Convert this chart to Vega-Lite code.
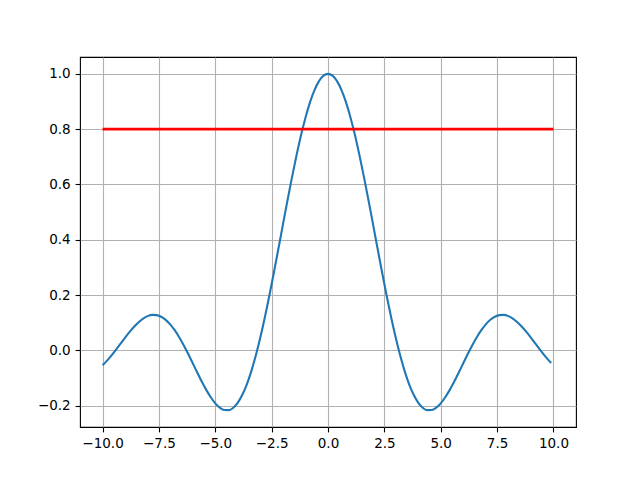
{
  "$schema": "https://vega.github.io/schema/vega-lite/v6.json",
  "width": 496,
  "height": 370,
  "padding": {"left": 80, "top": 57, "right": 64, "bottom": 53},
  "autosize": {"type": "none"},
  "config": {
    "view": {"stroke": "black", "strokeWidth": 1.1},
    "font": "DejaVu Sans",
    "axis": {
      "domain": false,
      "grid": true,
      "gridColor": "#b0b0b0",
      "gridWidth": 1.1,
      "tickColor": "black",
      "tickWidth": 1.1,
      "tickSize": 4.9,
      "labelPadding": 4.9,
      "labelFont": "DejaVu Sans",
      "labelFontSize": 13.5,
      "labelColor": "black",
      "title": null
    }
  },
  "datasets": {
    "curve": [
      {"x": -10.0, "y": -0.054402},
      {"x": -9.8, "y": -0.037396},
      {"x": -9.6, "y": -0.018159},
      {"x": -9.4, "y": 0.002636},
      {"x": -9.2, "y": 0.024227},
      {"x": -9.0, "y": 0.045791},
      {"x": -8.8, "y": 0.066468},
      {"x": -8.6, "y": 0.085395},
      {"x": -8.4, "y": 0.101738},
      {"x": -8.2, "y": 0.114723},
      {"x": -8.0, "y": 0.12367},
      {"x": -7.8, "y": 0.128018},
      {"x": -7.6, "y": 0.127358},
      {"x": -7.4, "y": 0.121447},
      {"x": -7.2, "y": 0.110232},
      {"x": -7.0, "y": 0.093855},
      {"x": -6.8, "y": 0.072664},
      {"x": -6.6, "y": 0.047203},
      {"x": -6.4, "y": 0.018211},
      {"x": -6.2, "y": -0.013401},
      {"x": -6.0, "y": -0.046569},
      {"x": -5.8, "y": -0.080104},
      {"x": -5.6, "y": -0.112726},
      {"x": -5.4, "y": -0.143105},
      {"x": -5.2, "y": -0.169895},
      {"x": -5.0, "y": -0.191785},
      {"x": -4.8, "y": -0.207534},
      {"x": -4.6, "y": -0.21602},
      {"x": -4.4, "y": -0.216273},
      {"x": -4.2, "y": -0.207518},
      {"x": -4.0, "y": -0.189201},
      {"x": -3.8, "y": -0.161015},
      {"x": -3.6, "y": -0.122922},
      {"x": -3.4, "y": -0.075159},
      {"x": -3.2, "y": -0.018242},
      {"x": -3.0, "y": 0.04704},
      {"x": -2.8, "y": 0.119639},
      {"x": -2.6, "y": 0.19827},
      {"x": -2.4, "y": 0.281443},
      {"x": -2.2, "y": 0.367498},
      {"x": -2.0, "y": 0.454649},
      {"x": -1.8, "y": 0.541027},
      {"x": -1.6, "y": 0.624734},
      {"x": -1.4, "y": 0.703893},
      {"x": -1.2, "y": 0.776699},
      {"x": -1.0, "y": 0.841471},
      {"x": -0.8, "y": 0.896695},
      {"x": -0.6, "y": 0.941071},
      {"x": -0.4, "y": 0.973546},
      {"x": -0.2, "y": 0.993347},
      {"x": 0.0, "y": 1.0},
      {"x": 0.2, "y": 0.993347},
      {"x": 0.4, "y": 0.973546},
      {"x": 0.6, "y": 0.941071},
      {"x": 0.8, "y": 0.896695},
      {"x": 1.0, "y": 0.841471},
      {"x": 1.2, "y": 0.776699},
      {"x": 1.4, "y": 0.703893},
      {"x": 1.6, "y": 0.624734},
      {"x": 1.8, "y": 0.541027},
      {"x": 2.0, "y": 0.454649},
      {"x": 2.2, "y": 0.367498},
      {"x": 2.4, "y": 0.281443},
      {"x": 2.6, "y": 0.19827},
      {"x": 2.8, "y": 0.119639},
      {"x": 3.0, "y": 0.04704},
      {"x": 3.2, "y": -0.018242},
      {"x": 3.4, "y": -0.075159},
      {"x": 3.6, "y": -0.122922},
      {"x": 3.8, "y": -0.161015},
      {"x": 4.0, "y": -0.189201},
      {"x": 4.2, "y": -0.207518},
      {"x": 4.4, "y": -0.216273},
      {"x": 4.6, "y": -0.21602},
      {"x": 4.8, "y": -0.207534},
      {"x": 5.0, "y": -0.191785},
      {"x": 5.2, "y": -0.169895},
      {"x": 5.4, "y": -0.143105},
      {"x": 5.6, "y": -0.112726},
      {"x": 5.8, "y": -0.080104},
      {"x": 6.0, "y": -0.046569},
      {"x": 6.2, "y": -0.013401},
      {"x": 6.4, "y": 0.018211},
      {"x": 6.6, "y": 0.047203},
      {"x": 6.8, "y": 0.072664},
      {"x": 7.0, "y": 0.093855},
      {"x": 7.2, "y": 0.110232},
      {"x": 7.4, "y": 0.121447},
      {"x": 7.6, "y": 0.127358},
      {"x": 7.8, "y": 0.128018},
      {"x": 8.0, "y": 0.12367},
      {"x": 8.2, "y": 0.114723},
      {"x": 8.4, "y": 0.101738},
      {"x": 8.6, "y": 0.085395},
      {"x": 8.8, "y": 0.066468},
      {"x": 9.0, "y": 0.045791},
      {"x": 9.2, "y": 0.024227},
      {"x": 9.4, "y": 0.002636},
      {"x": 9.6, "y": -0.018159},
      {"x": 9.8, "y": -0.037396},
      {"x": 9.9, "y": -0.046216}
    ],
    "hline": [
      {"x": -10, "y": 0.8},
      {"x": 10, "y": 0.8}
    ]
  },
  "layer": [
    {
      "data": {"name": "curve"},
      "mark": {"type": "line", "color": "#1f77b4", "strokeWidth": 2.08, "interpolate": "monotone", "clip": true},
      "encoding": {
        "x": {
          "field": "x", "type": "quantitative",
          "scale": {"domain": [-11, 11], "nice": false, "zero": false},
          "axis": {"values": [-10, -7.5, -5, -2.5, 0, 2.5, 5, 7.5, 10], "format": ".1f"}
        },
        "y": {
          "field": "y", "type": "quantitative",
          "scale": {"domain": [-0.2774, 1.0609], "nice": false, "zero": false},
          "axis": {"values": [-0.2, 0, 0.2, 0.4, 0.6, 0.8, 1.0], "format": ".1f"}
        }
      }
    },
    {
      "data": {"name": "hline"},
      "mark": {"type": "line", "color": "red", "strokeWidth": 2.78},
      "encoding": {
        "x": {"field": "x", "type": "quantitative"},
        "y": {"field": "y", "type": "quantitative"}
      }
    }
  ]
}
